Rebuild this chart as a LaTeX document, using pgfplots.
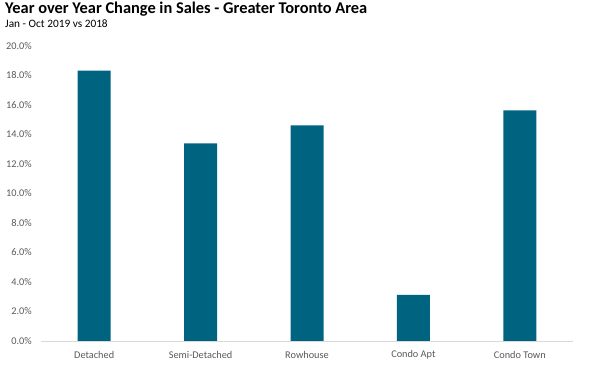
\documentclass[border=0pt]{standalone}
\usepackage{pgfplots}
\pgfplotsset{compat=1.18}
\usepackage{fontspec}
\setmainfont{Carlito}
\definecolor{bar}{RGB}{0,99,128}
\definecolor{tick}{RGB}{89,89,89}
\definecolor{axl}{RGB}{217,217,217}
\begin{document}
\begin{tikzpicture}
\useasboundingbox (0,0) rectangle (600pt,371pt);
\node[anchor=base west,inner sep=0pt,font=\fontsize{16.4}{18}\selectfont\bfseries] at (5pt,357.5pt) {Year over Year Change in Sales - Greater Toronto Area};
\node[anchor=base west,inner sep=0pt,font=\fontsize{11.3}{13}\selectfont] at (5pt,343pt) {Jan - Oct 2019 vs 2018};
\begin{axis}[
  at={(41pt,30pt)}, anchor=south west,
  scale only axis, width=532pt, height=295pt,
  xmin=-0.5, xmax=4.5, ymin=0, ymax=20,
  xtick={0,1,2,3,4},
  xticklabels={Detached,Semi-Detached,Rowhouse,Condo Apt,Condo Town},
  ytick={0,2,...,20},
  yticklabel={\pgfmathprintnumber[fixed,fixed zerofill,precision=1]{\tick}\%},
  /pgf/number format/assume math mode=true,
  major tick length=0pt,
  axis x line*=bottom, axis y line*=left,
  y axis line style={draw=none},
  x axis line style={draw=axl, line width=0.8pt},
  ticklabel style={font=\fontsize{10.3}{12}\selectfont, text=tick},
  yticklabel style={anchor=east, inner sep=0pt, xshift=-9pt},
  xticklabel style={anchor=center, inner sep=0pt, yshift=-14pt},
]
\addplot[ybar, bar width=33pt, fill=bar, draw=none] coordinates {
 (0,18.33) (1,13.40) (2,14.62) (3,3.12) (4,15.64)
};
\end{axis}
\end{tikzpicture}
\end{document}
